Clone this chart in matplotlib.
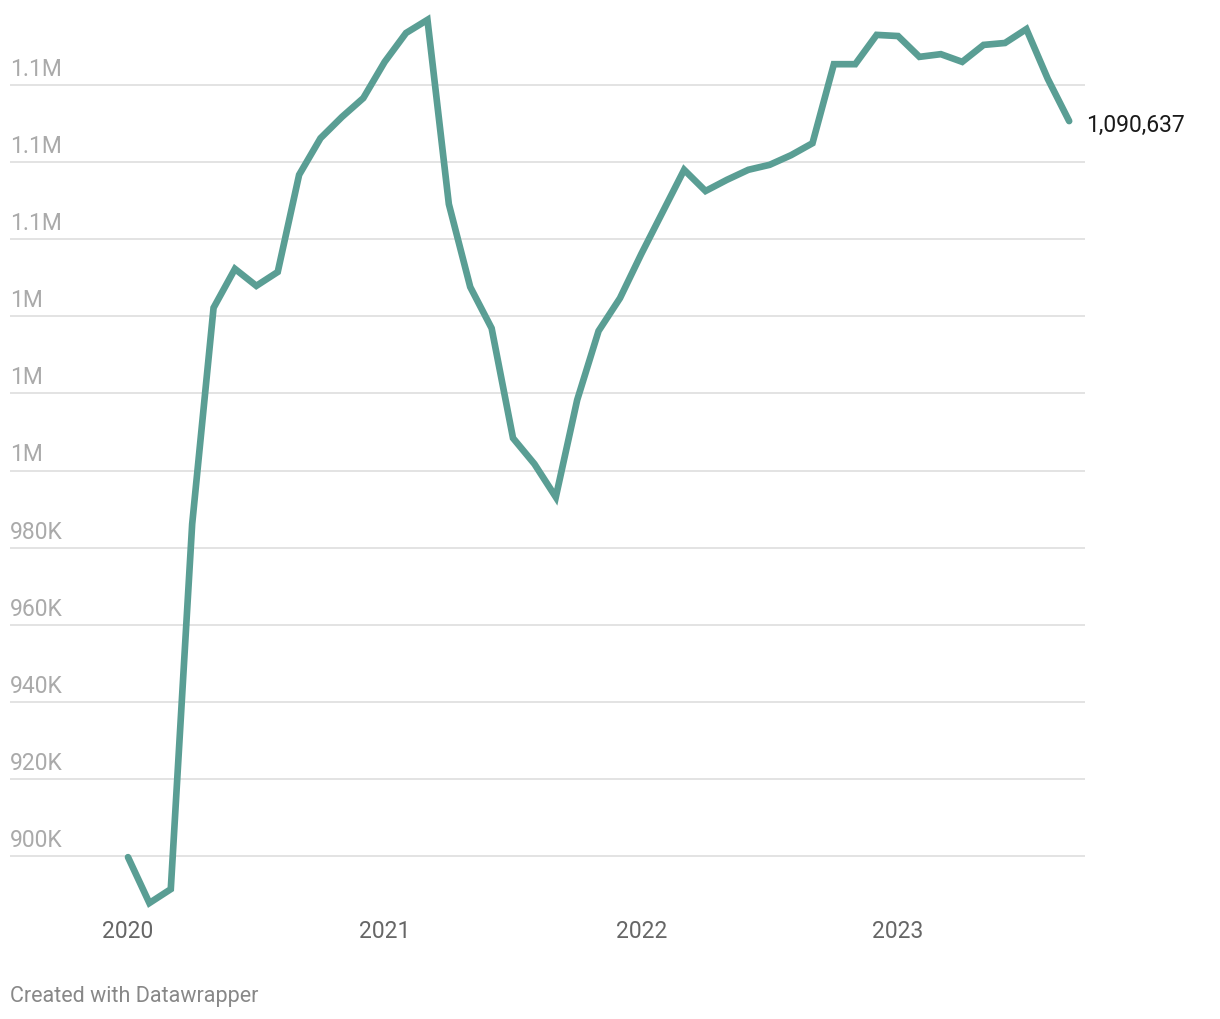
import matplotlib.pyplot as plt
import numpy as np

# Monthly values, Jan 2020 .. Sep 2023 (in thousands)
months = np.arange(45)
values = np.array([
    899.7, 887.8, 891.4, 986.1, 1042.2, 1052.3, 1047.9, 1051.5, 1076.7, 1086.2, 1091.7, 1096.6,
    1106.0, 1113.5, 1116.9, 1069.1, 1047.6, 1036.9, 1008.4, 1001.7, 993.1, 1018.3, 1036.2, 1044.7,
    1056.2, 1067.1, 1078.0, 1072.5, 1075.4, 1078.0, 1079.3, 1081.8, 1084.9, 1105.4, 1105.4, 1113.0,
    1112.7, 1107.3, 1108.0, 1106.0, 1110.4, 1110.9, 1114.5, 1101.6, 1090.637,
])
y_ticks = [900, 920, 940, 960, 980, 1000, 1020, 1040, 1060, 1080, 1100]
y_labels = ["900K", "920K", "940K", "960K", "980K", "1M", "1M", "1M", "1.1M", "1.1M", "1.1M"]
x_ticks = [0, 12, 24, 36]
x_labels = ["2020", "2021", "2022", "2023"]
last_label = "1,090,637"

plt.rcParams['font.family'] = ['Roboto', 'DejaVu Sans']

W, H = 1220, 1020
fig = plt.figure(figsize=(W / 100, H / 100), dpi=100)
ax = fig.add_axes([10 / W, 1 - 910 / H, 1075 / W, 900 / H])

px_month = 21.39
ax.set_xlim(-118 / px_month, 957 / px_month)
ax.set_ylim(900 - 53 / 77.1 * 20, 900 + 847 / 77.1 * 20)

# grid + labels sitting above each line
for t, lab in zip(y_ticks, y_labels):
    ax.axhline(t, color='#e0e0e0', lw=1.3, zorder=1)
    ax.annotate(lab, xy=(0, t), xycoords=('axes fraction', 'data'),
                xytext=(0, 5), textcoords='offset pixels', ha='left', va='bottom',
                fontsize=16.5, color='#aaaaaa')

ax.plot(months, values, color='#5a9e94', lw=4.8, solid_capstyle='round',
        solid_joinstyle='miter', zorder=3)

ax.annotate(last_label, xy=(months[-1], values[-1]), xytext=(17, -3),
            textcoords='offset pixels', ha='left', va='center', fontsize=16.5, color='#1a1a1a')

ax.set_xticks(x_ticks)
ax.set_xticklabels(x_labels, fontsize=16.5, color='#666666')
ax.tick_params(axis='x', length=0, pad=7)
ax.set_yticks([])
for s in ax.spines.values():
    s.set_visible(False)

fig.text(10 / W, 1 - 997 / H, "Created with Datawrapper", ha='left', va='center',
         fontsize=15.5, color='#888888')

fig.savefig('out.png', dpi=100)
